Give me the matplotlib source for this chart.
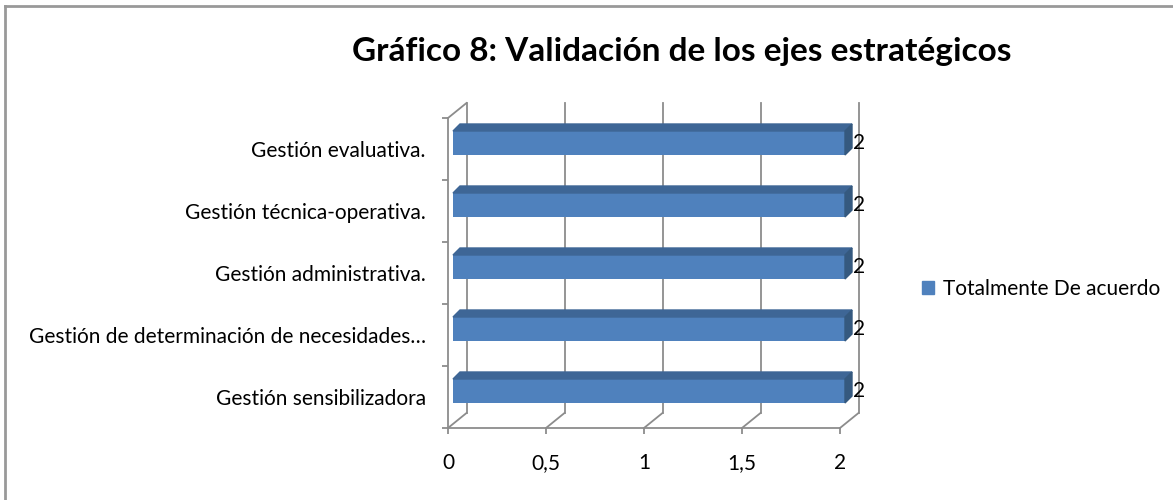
import numpy as np
import matplotlib.pyplot as plt
from matplotlib.patches import Polygon, Patch
from matplotlib.lines import Line2D

plt.rcParams['font.family'] = ['Lato', 'DejaVu Sans']

# data (bottom to top, as drawn)
categories = ['Gestión sensibilizadora',
              'Gestión de determinación de necesidades…',
              'Gestión administrativa.',
              'Gestión técnica-operativa.',
              'Gestión evaluativa.']
values = [2, 2, 2, 2, 2]
series_name = 'Totalmente De acuerdo'
xticks = [0, 0.5, 1, 1.5, 2]
xtick_labels = ['0', '0,5', '1', '1,5', '2']
title = 'Gráfico 8: Validación de los ejes estratégicos'

W, H = 1173, 500
fig = plt.figure(figsize=(W / 100, H / 100), dpi=100)
ax = fig.add_axes([448 / W, (H - 428) / H, 392 / W, 310 / H])

ax.set_xlim(0, 2)
ax.set_ylim(-0.5, len(categories) - 0.5)

# pixel -> data unit helpers
px_x = 2 / 392
px_y = len(categories) / 310

grid_c = '#8c8c8c'
# depth of the back wall
dx_wall, dy_wall = 18.5 * px_x, 15 * px_y
y0, y1 = -0.5, len(categories) - 0.5

# back wall gridlines + floor lines
for x in xticks:
    ax.plot([x + dx_wall, x + dx_wall], [y0 + dy_wall, y1 + dy_wall],
            color=grid_c, lw=1.3, clip_on=False, zorder=1)
    ax.plot([x, x + dx_wall], [y0, y0 + dy_wall],
            color=grid_c, lw=1.3, clip_on=False, zorder=1)
# top of side wall
ax.plot([0, dx_wall], [y1, y1 + dy_wall], color=grid_c, lw=1.3,
        clip_on=False, zorder=1)

# 3D bars
front_c, top_c, side_c = '#4F81BD', '#3E6696', '#35597F'
ys = np.arange(len(categories))
bar_h = 24 * px_y
shift_x, shift_y = 5 * px_x, 6 * px_y
dx_bar, dy_bar = 7 * px_x, 7 * px_y
for y, v in zip(ys, values):
    yc = y + shift_y
    left = shift_x
    right = v + shift_x
    b, t = yc - bar_h / 2, yc + bar_h / 2
    ax.barh(yc, v, left=left, height=bar_h, color=front_c, zorder=3,
            edgecolor='none', clip_on=False)
    ax.add_patch(Polygon([(left, t), (right, t), (right + dx_bar, t + dy_bar),
                          (left + dx_bar, t + dy_bar)], closed=True,
                         color=top_c, zorder=3, clip_on=False))
    ax.add_patch(Polygon([(right, b), (right + dx_bar, b + dy_bar),
                          (right + dx_bar, t + dy_bar), (right, t)], closed=True,
                         color=side_c, zorder=3, clip_on=False))
    ax.text(right + dx_bar + 1 * px_x, yc, str(v), ha='left', va='center',
            fontsize=15, color='black')

# axes styling
for s in ['top', 'right']:
    ax.spines[s].set_visible(False)
for s in ['left', 'bottom']:
    ax.spines[s].set_color(grid_c)
    ax.spines[s].set_linewidth(1.3)
ax.set_xticks(xticks)
ax.set_xticklabels(xtick_labels, fontsize=15)
ax.tick_params(axis='x', length=4, width=1.3, color=grid_c, pad=14)
ax.set_yticks(ys)
ax.set_yticklabels(categories, fontsize=15)
ax.tick_params(axis='y', which='major', length=0, pad=16)
ax.set_yticks(np.arange(-0.5, len(categories)), minor=True)
ax.tick_params(axis='y', which='minor', length=4, width=1.3, color=grid_c)
ax.set_facecolor('none')

# title
fig.text(682 / W, 1 - 52 / H, title, ha='center', va='center',
         fontsize=24, fontweight='bold')

# legend
fig.legend(handles=[Patch(color=front_c, label=series_name)],
           loc='center left', bbox_to_anchor=(903 / W, 1 - 289 / H),
           frameon=False, fontsize=15, handlelength=0.6, handleheight=0.6,
           handletextpad=0.4)

# outer chart border (right/bottom edges fall outside the image)
fig.add_artist(Line2D([5 / W, 1], [1 - 6 / H, 1 - 6 / H], color='#999999', lw=2))
fig.add_artist(Line2D([5 / W, 5 / W], [0, 1 - 6 / H], color='#999999', lw=2))

fig.savefig('out.png', dpi=100)
